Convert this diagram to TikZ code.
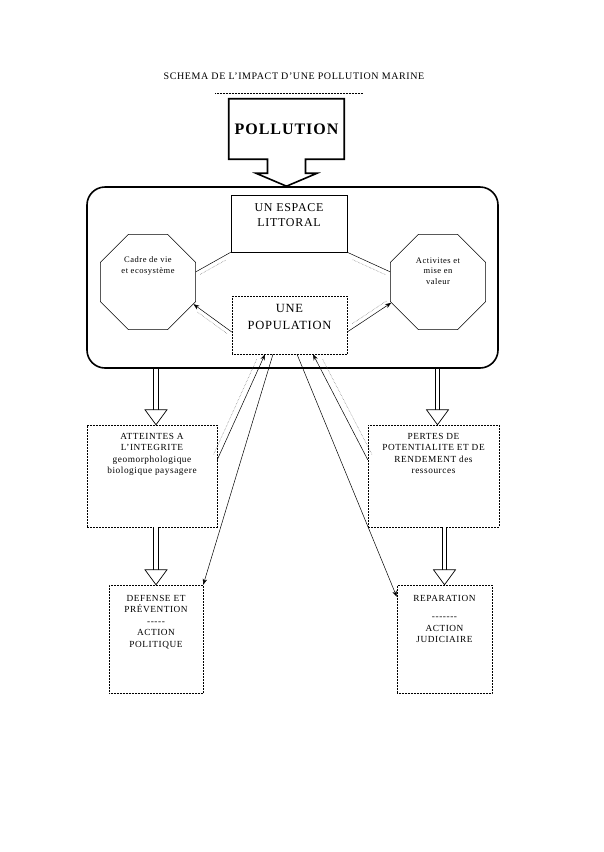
\documentclass[tikz,border=0pt]{standalone}
\usepackage{fontspec}
\setmainfont[LetterSpace=6]{Liberation Serif}
\usetikzlibrary{arrows.meta, positioning, shapes.geometric, calc}

\begin{document}
\begin{tikzpicture}[x=1pt,y=-1pt,>={Stealth[length=6pt,width=4.5pt]},line width=0.5pt]
    \tikzstyle{box}=[rectangle,draw=black,inner sep=0pt]
    \tikzstyle{plain box}=[box]
    \tikzstyle{dotted box}=[box,densely dotted]
    \tikzstyle{dashed box}=[box,dash pattern=on 2pt off 1pt]
    \tikzstyle{octagon}=[regular polygon,regular polygon sides=8,draw=black,minimum size=103pt,inner sep=0pt]
    \tikzstyle{annot}=[align=center,font=\fontsize{9.3}{11.5}\selectfont,inner sep=0pt,anchor=north]
    \tikzstyle{ghost}=[draw=black!55,densely dotted,line width=0.5pt,shorten <=6pt,shorten >=5pt]
    \tikzstyle{stem}=[double,double distance=3.6pt,line width=0.9pt]
    \tikzstyle{head}=[draw=black,fill=white,line width=0.7pt]

    \useasboundingbox (0,0) rectangle (604,852);

    % Title
    \node[font=\fontsize{10}{12}\selectfont] (title) at (294,76) {SCHEMA DE L'IMPACT D'UNE POLLUTION MARINE};
    \draw[densely dotted] (215,93) -- (363,93);

    % The big zone and the pollution callout on top of it
    \node[draw,line width=1.6pt,rounded corners=18pt,minimum width=411pt,minimum height=181pt] (zone) at (292.5,277.5) {};
    \node[font=\fontsize{16}{19}\selectfont\bfseries,minimum width=115pt,minimum height=60pt,inner sep=0pt] (pollution) at (286.5,129) {POLLUTION};
    \draw[line width=1.6pt,line join=miter]
        ([xshift=-19pt]pollution.south) -- (pollution.south west) -- (pollution.north west)
        -- (pollution.north east) -- (pollution.south east) -- ([xshift=19pt]pollution.south)
        -- ++(0,14) -- ++(11.5,0) -- (pollution.south |- zone.north)
        -- ([xshift=-30.5pt,yshift=-14pt]pollution.south) -- ++(11.5,0) -- cycle;

    % Nodes inside the zone
    \node[plain box,minimum width=116pt,minimum height=57pt] (espace) at (289,223.5) {};
    \node[annot,font=\fontsize{12}{15}\selectfont] at ([yshift=-9pt]espace.north) {UN ESPACE\\LITTORAL};

    \node[dotted box,minimum width=115pt,minimum height=58pt] (population) at (289.5,325) {};
    \node[annot,font=\fontsize{12.5}{17}\selectfont] at ([yshift=-8pt]population.north) {UNE\\POPULATION};

    \node[octagon] (cadre) at (148,282) {};
    \node[annot,anchor=center,font=\fontsize{8.5}{11}\selectfont] at ([yshift=16pt]cadre.center) {Cadre de vie\\et ecosystème};

    \node[octagon] (activites) at (438,282) {};
    \node[annot,anchor=center,font=\fontsize{8.5}{10.5}\selectfont] at ([yshift=11pt]activites.center) {Activites et\\mise en\\valeur};

    % Links inside the zone
    \draw (espace.south west) -- (cadre.12);
    \draw (espace.south east) -- (activites.168);
    \draw[->] ([yshift=-7pt]population.west) -- (cadre.-26);
    \draw[->] ([yshift=-7pt]population.east) -- (activites.-156);

    % Consequences
    \node[dashed box,minimum width=130pt,minimum height=102pt] (atteintes) at (152,476) {};
    \node[annot] at ([yshift=-8pt]atteintes.north) {ATTEINTES A\\L'INTEGRITE\\geomorphologique\\biologique paysagere};

    \node[dashed box,minimum width=131pt,minimum height=102pt] (pertes) at (433.5,476) {};
    \node[annot] at ([yshift=-8pt]pertes.north) {PERTES DE\\POTENTIALITE ET DE\\RENDEMENT des\\ressources};

    % Answers
    \node[dotted box,minimum width=94pt,minimum height=108pt] (defense) at (156,639) {};
    \node[annot] at ([yshift=-10pt]defense.north) {DEFENSE ET\\PRÉVENTION\\-{}-{}-{}-{}-\\ACTION\\POLITIQUE};

    \node[dotted box,minimum width=95pt,minimum height=108pt] (reparation) at (444.5,639) {};
    \node[annot] at ([yshift=-10pt]reparation.north) {REPARATION\\[7pt]-{}-{}-{}-{}-{}-{}-\\ACTION\\JUDICIAIRE};

    % Hollow block arrows
    \foreach \src/\dst/\dx in {zone/atteintes/4,zone/pertes/4,atteintes/defense/0,pertes/reparation/0}
    {
        \draw[stem] ($(\src.south -| \dst.north)+(\dx,0)$) -- ($(\dst.north)+(\dx,-15)$);
        \draw[head] ($(\dst.north)+(\dx-11,-15)$) -- ($(\dst.north)+(\dx+11,-15)$) -- ($(\dst.north)+(\dx,0)$) -- cycle;
    }

    % Long arrows to and from the population
    \draw[->] ([yshift=-35pt]atteintes.north east) -- ([xshift=-24.5pt]population.south);
    \draw[->] ([xshift=-16.5pt]population.south) -- (defense.north east);
    \draw[->] ([xshift=7.5pt]population.south) -- ([yshift=-12pt]reparation.north west);
    \draw[->] ([yshift=-35pt]pertes.north west) -- ([xshift=23.5pt]population.south);

    % Dotted shadows of the links
    \draw[ghost,transform canvas={shift={(0,5)}}] (espace.south west) -- (cadre.12);
    \draw[ghost,transform canvas={shift={(0,5)}}] (espace.south east) -- (activites.168);
    \draw[ghost,transform canvas={shift={(0,5)}}] ([yshift=-7pt]population.west) -- (cadre.-26);
    \draw[ghost,transform canvas={shift={(0,-5)}}] ([yshift=-7pt]population.east) -- (activites.-156);
    \draw[ghost,transform canvas={shift={(-6,0)}}] ([yshift=-35pt]atteintes.north east) -- ([xshift=-24.5pt]population.south);
    \draw[ghost,transform canvas={shift={(7,0)}}] ([yshift=-35pt]pertes.north west) -- ([xshift=23.5pt]population.south);
\end{tikzpicture}
\end{document}
